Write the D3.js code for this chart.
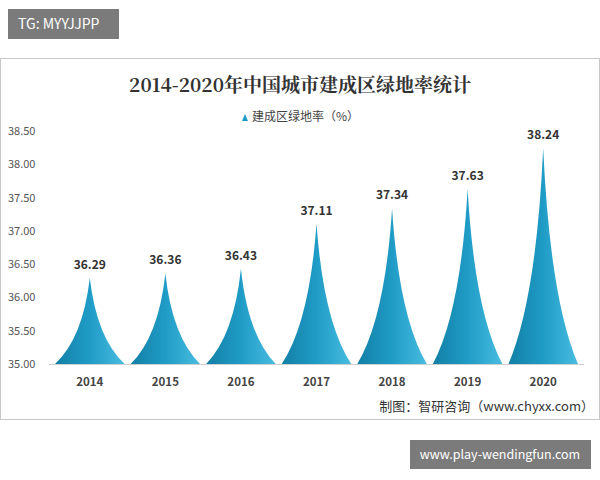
<!DOCTYPE html>
<html><head><meta charset="utf-8">
<script src="https://cdn.jsdelivr.net/npm/d3@7.9.0/dist/d3.min.js"></script>
<style>body{margin:0;background:#fff}svg{display:block}</style>
</head><body><svg id="c" width="600" height="480"></svg>
<script>
const years = ['2014', '2015', '2016', '2017', '2018', '2019', '2020'];
const rates = [36.29, 36.36, 36.43, 37.11, 37.34, 37.63, 38.24];
const yTicks = [35.0, 35.5, 36.0, 36.5, 37.0, 37.5, 38.0, 38.5];

const svg = d3.select('#c');
const font = '"Noto Sans CJK SC", "Noto Sans", sans-serif';

// outer frame
svg.append('rect').attr('x', 0.5).attr('y', 58.5).attr('width', 599).attr('height', 361)
  .attr('fill', '#fff').attr('stroke', '#c8c8c8');

// badge top-left
svg.append('rect').attr('x', 8).attr('y', 9).attr('width', 111).attr('height', 30).attr('fill', '#7b7b7b');
svg.append('text').attr('x', 18).attr('y', 29).attr('fill', '#fff').attr('font-family', font)
  .attr('font-size', 14).text('TG: MYYJJPP');

// bottom-right badge
svg.append('rect').attr('x', 410).attr('y', 440).attr('width', 181).attr('height', 29).attr('fill', '#7b7b7b');
svg.append('text').attr('x', 500).attr('y', 459).attr('text-anchor', 'middle').attr('fill', '#fff')
  .attr('font-family', font).attr('font-size', 12.5).text('www.play-wendingfun.com');

const x = d3.scaleBand().domain(years).range([49, 584]).padding(0.08);
const y = d3.scaleLinear().domain([35, 38.5]).range([364, 131]);

const defs = svg.append('defs');
const g = defs.append('linearGradient').attr('id', 'grad').attr('x1', 0).attr('x2', 1).attr('y1', 0).attr('y2', 0);
g.append('stop').attr('offset', 0).attr('stop-color', '#137fa6');
g.append('stop').attr('offset', 0.5).attr('stop-color', '#1f9cc6');
g.append('stop').attr('offset', 1).attr('stop-color', '#49bce0');

// title
svg.append('text').attr('x', 300).attr('y', 92).attr('text-anchor', 'middle')
  .attr('font-family', '"Noto Serif CJK SC", "Noto Sans CJK SC", serif').attr('font-weight', 'bold')
  .attr('font-size', 19).attr('fill', '#333').text('2014-2020年中国城市建成区绿地率统计');

// legend
svg.append('path').attr('d', 'M242,121 L245,114 L248,121 Z').attr('fill', '#1f9cc6');
svg.append('text').attr('x', 252).attr('y', 121).attr('font-family', font).attr('font-size', 12)
  .attr('fill', '#444').text('建成区绿地率（%）');

// y axis labels
svg.append('g').selectAll('text').data(yTicks).join('text')
  .attr('x', 8).attr('y', d => y(d) + 4).attr('font-family', font).attr('font-size', 11)
  .attr('fill', '#555').text(d => d.toFixed(2));

// baseline
svg.append('line').attr('x1', 49).attr('x2', 584).attr('y1', 364.5).attr('y2', 364.5).attr('stroke', '#d0d0d0');

// spikes
const y0 = y(35);
svg.append('g').selectAll('path').data(years).join('path')
  .attr('fill', 'url(#grad)')
  .attr('d', (d, i) => {
    const cx = x(d) + x.bandwidth() / 2, w = x.bandwidth() / 2, top = y(rates[i]), h = y0 - top;
    return `M${cx - w},${y0} Q${cx - w * 0.2},${y0 - h * 0.3} ${cx},${top} Q${cx + w * 0.2},${y0 - h * 0.3} ${cx + w},${y0} Z`;
  });

// value labels
svg.append('g').selectAll('text').data(years).join('text')
  .attr('x', d => x(d) + x.bandwidth() / 2).attr('y', (d, i) => y(rates[i]) - 9)
  .attr('text-anchor', 'middle').attr('font-family', font).attr('font-weight', 'bold')
  .attr('font-size', 12).attr('fill', '#333').text((d, i) => rates[i].toFixed(2));

// x labels
svg.append('g').selectAll('text').data(years).join('text')
  .attr('x', d => x(d) + x.bandwidth() / 2).attr('y', 386).attr('text-anchor', 'middle')
  .attr('font-family', font).attr('font-weight', 'bold').attr('font-size', 11.5).attr('fill', '#444').text(d => d);

// source
svg.append('text').attr('x', 594).attr('y', 411).attr('text-anchor', 'end').attr('font-family', font)
  .attr('font-size', 13).attr('fill', '#333').text('制图：智研咨询（www.chyxx.com）');
</script></body></html>
